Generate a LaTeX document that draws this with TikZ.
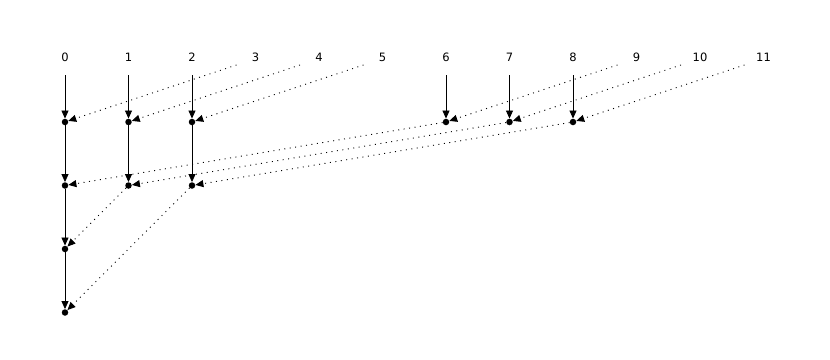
\documentclass[tikz,border=0pt]{standalone}
\usepackage{fontspec}
\setmainfont{DejaVu Sans}
\usetikzlibrary{arrows.meta}
\begin{document}
\begin{tikzpicture}[x=1bp,y=-1bp,
  lbl/.style={font=\fontsize{11.5bp}{13bp}\selectfont, inner sep=0pt},
  dot/.style={circle, fill=black, inner sep=0pt, minimum size=6.5bp},
  solidarr/.style={draw=black, line width=0.8bp, -{Triangle[length=8bp,width=7bp]}},
  dotarr/.style={draw=black, line width=0.9bp, dash pattern=on 1bp off 4.5bp, -{Triangle[length=8bp,width=7bp]}}]
\useasboundingbox (0,0) rectangle (830,359);
% labels and their anchor points
\foreach \i in {0,...,11}{
  \node[lbl] (L\i) at ({65+63.5*\i},57) {\i};
  \coordinate (S\i) at ({65+63.5*\i},75);
  \coordinate (D\i) at ({46+63.5*\i},65);
}
% dots
\node[dot] (a0) at (65,122) {};
\node[dot] (a1) at (128.5,122) {};
\node[dot] (a2) at (192,122) {};
\node[dot] (a6) at (446,122) {};
\node[dot] (a7) at (509.5,122) {};
\node[dot] (a8) at (573,122) {};
\node[dot] (b0) at (65,185.5) {};
\node[dot] (b1) at (128.5,185.5) {};
\node[dot] (b2) at (192,185.5) {};
\node[dot] (c0) at (65,249) {};
\node[dot] (d0) at (65,312.5) {};
% solid arrows
\foreach \i in {0,1,2,6,7,8}{ \draw[solidarr] (S\i) -- (a\i); }
\draw[solidarr] (a0) -- (b0);
\draw[solidarr] (a1) -- (b1);
\draw[solidarr] (a2) -- (b2);
\draw[solidarr] (b0) -- (c0);
\draw[solidarr] (c0) -- (d0);
% dotted arrows
\draw[dotarr] (D3) -- (a0);
\draw[dotarr] (D4) -- (a1);
\draw[dotarr] (D5) -- (a2);
\draw[dotarr] (D9) -- (a6);
\draw[dotarr] (D10) -- (a7);
\draw[dotarr] (D11) -- (a8);
\draw[dotarr] (a6) -- (b0);
\draw[dotarr] (a7) -- (b1);
\draw[dotarr] (a8) -- (b2);
\draw[dotarr] (b1) -- (c0);
\draw[dotarr] (b2) -- (d0);
\end{tikzpicture}
\end{document}
